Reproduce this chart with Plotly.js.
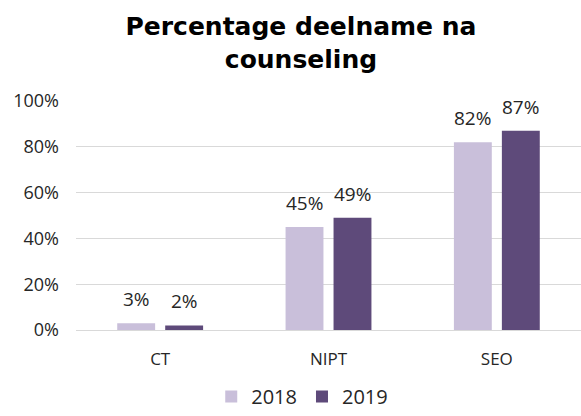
<!DOCTYPE html>
<html><head><meta charset="utf-8">
<script src="https://cdn.plot.ly/plotly-3.0.1.min.js"></script>
<style>body{margin:0;background:#fff}#c{width:581px;height:416px}</style>
</head><body><div id="c"></div>
<script>
const categories = ["CT", "NIPT", "SEO"];
const values2018 = [3, 45, 82];
const values2019 = [2, 49, 87];
const seriesNames = ["2018", "2019"];
const yTicks = [0, 20, 40, 60, 80, 100];

const fam = "Open Sans, Liberation Sans, sans-serif";
const lblFont = {family: fam, size: 19, color: "#262626"};
const traces = [
  {type: "bar", name: seriesNames[0], x: categories, y: values2018,
   marker: {color: "#C9BFDA"}, hoverinfo: "none"},
  {type: "bar", name: seriesNames[1], x: categories, y: values2019,
   marker: {color: "#5E4A7A"}, hoverinfo: "none"}
];
const annotations = [];
[values2018, values2019].forEach((vals, s) => {
  vals.forEach((v, i) => {
    annotations.push({x: categories[i], y: v, xref: "x", yref: "y", text: v + "%",
      showarrow: false, xshift: s === 0 ? -24 : 24, yshift: 9, yanchor: "bottom",
      font: lblFont});
  });
});
const layout = {
  width: 581, height: 416,
  margin: {l: 76, r: 0, t: 101, b: 86, autoexpand: false},
  paper_bgcolor: "#fff", plot_bgcolor: "#fff",
  title: {text: "Percentage deelname na<br>counseling", x: 0.518, xanchor: "center", yref: "container", y: 0.915, yanchor: "top",
          font: {family: "DejaVu Sans, Verdana, sans-serif", size: 25, color: "#000", weight: "bold"}},
  barmode: "group", bargap: 0.43, bargroupgap: 0.21,
  annotations: annotations,
  xaxis: {type: "category", showline: true, linecolor: "#D9D9D9", linewidth: 1, ticks: "",
          ticklabelstandoff: 14, automargin: false,
          tickfont: {family: fam, size: 17, color: "#262626"}},
  yaxis: {range: [0, 100], tickvals: yTicks, ticktext: yTicks.map(v => v + "%"),
          showgrid: true, gridcolor: "#D9D9D9", gridwidth: 1, zeroline: false, ticks: "",
          ticklabelstandoff: 16, automargin: false,
          tickfont: {family: fam, size: 18, color: "#262626"}},
  showlegend: true,
  legend: {orientation: "h", x: 0.448, xanchor: "center", yref: "container", y: 0.0, yanchor: "bottom",
           font: {family: fam, size: 20, color: "#262626"},
           itemwidth: 30, traceorder: "normal"}
};
Plotly.newPlot("c", traces, layout, {displayModeBar: false, staticPlot: true});
</script></body></html>
